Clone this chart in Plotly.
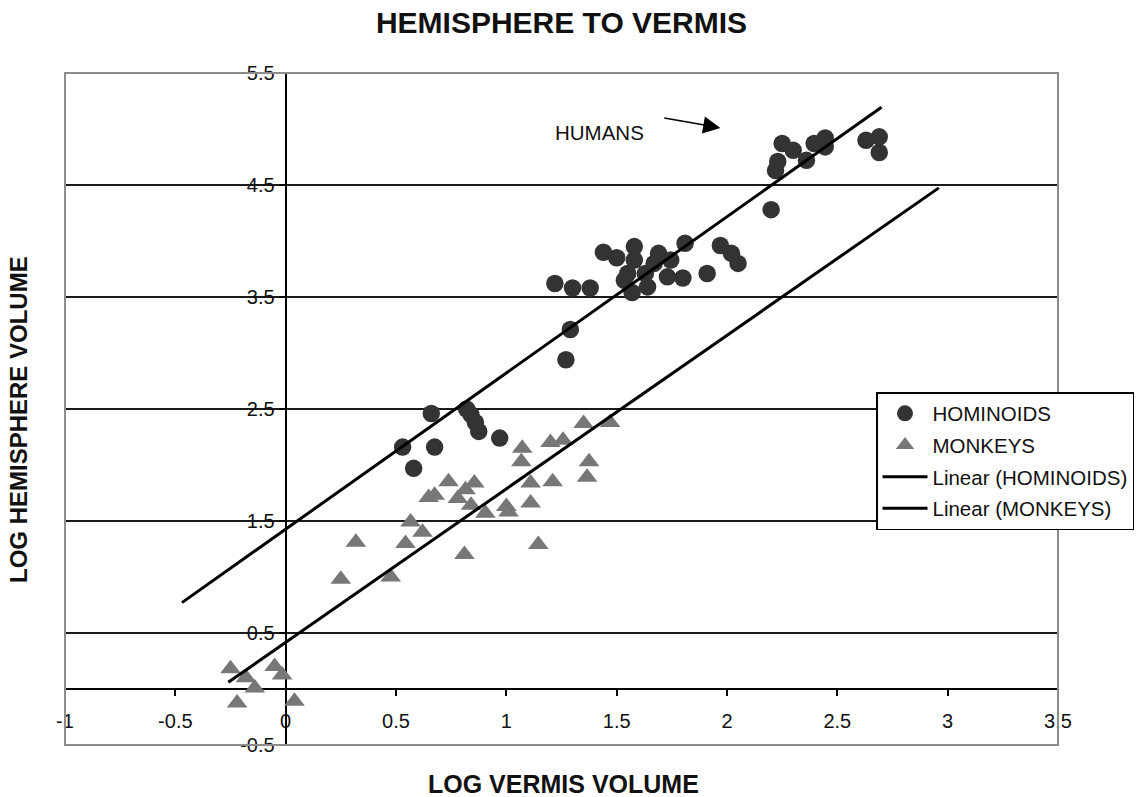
import plotly.graph_objects as go

# Log vermis volume (x) vs log hemisphere volume (y)
hom_x = [0.53, 0.66, 0.675, 0.58, 0.82, 0.84, 0.86, 0.875, 0.97,
         1.22, 1.30, 1.38, 1.29, 1.27,
         1.44, 1.50, 1.58, 1.58, 1.55, 1.535, 1.57, 1.63, 1.67, 1.64,
         1.69, 1.745, 1.81, 1.73, 1.80, 1.91, 1.97, 2.02, 2.05,
         2.20, 2.25, 2.30, 2.23, 2.22, 2.36, 2.395, 2.445, 2.445,
         2.63, 2.69, 2.69]
hom_y = [2.16, 2.46, 2.16, 1.97, 2.50, 2.45, 2.38, 2.30, 2.24,
         3.62, 3.58, 3.58, 3.21, 2.94,
         3.90, 3.85, 3.95, 3.83, 3.71, 3.65, 3.54, 3.71, 3.80, 3.59,
         3.89, 3.83, 3.98, 3.68, 3.67, 3.71, 3.96, 3.89, 3.80,
         4.28, 4.87, 4.81, 4.71, 4.63, 4.72, 4.87, 4.92, 4.84,
         4.90, 4.93, 4.79]

mon_x = [1.072, 1.068, 1.20, 1.257, 1.35, 1.47, 1.375, 1.366, 1.11, 1.21,
         1.11, 1.00, 1.01, 0.905, 1.145, 0.81, 0.738, 0.855, 0.675, 0.648,
         0.78, 0.815, 0.84, 0.566, 0.62, 0.543, 0.318, 0.476, 0.25,
         -0.25, -0.18, -0.14, -0.05, -0.016, -0.22, 0.04]
mon_y = [2.15, 2.03, 2.20, 2.22, 2.37, 2.38, 2.03, 1.89, 1.84, 1.85,
         1.66, 1.63, 1.58, 1.57, 1.29, 1.20, 1.85, 1.84, 1.73, 1.71,
         1.70, 1.78, 1.64, 1.49, 1.40, 1.30, 1.31, 1.00, 0.98,
         0.18, 0.10, 0.01, 0.20, 0.125, -0.125, -0.11]

# Linear trendlines: slope, intercept and x extent
hom_slope, hom_intercept = 1.395, 1.427
hom_trend_x = [-0.47, 2.70]
mon_slope, mon_intercept = 1.371, 0.416
mon_trend_x = [-0.26, 2.96]

x_ticks = [-1, -0.5, 0, 0.5, 1, 1.5, 2, 2.5, 3, 3.5]
x_tick_text = ["-1", "-0.5", "0", "0.5", "1", "1.5", "2", "2.5", "3", "3.5"]
y_ticks = [-0.5, 0.5, 1.5, 2.5, 3.5, 4.5, 5.5]
y_tick_text = ["-0.5", "0.5", "1.5", "2.5", "3.5", "4.5", "5.5"]

x_range = [-1, 3.5]
y_range = [-0.5, 5.5]

FONT = "Liberation Sans, Arial, sans-serif"

hom_trend_y = [hom_intercept + hom_slope * v for v in hom_trend_x]
mon_trend_y = [mon_intercept + mon_slope * v for v in mon_trend_x]

fig = go.Figure()
fig.add_trace(go.Scatter(
    x=hom_x, y=hom_y, mode="markers", name="HOMINOIDS", legendgroup="a",
    marker=dict(symbol="circle", size=17.5, color="#333333", line=dict(width=0)),
))
fig.add_trace(go.Scatter(
    x=mon_x, y=mon_y, mode="markers", name="MONKEYS", legendgroup="b",
    marker=dict(symbol="triangle-up", size=18, color="#777777", line=dict(width=0)),
))
fig.add_trace(go.Scatter(
    x=hom_trend_x, y=hom_trend_y, mode="lines", name="Linear (HOMINOIDS)",
    legendgroup="c", line=dict(color="black", width=3),
))
fig.add_trace(go.Scatter(
    x=mon_trend_x, y=mon_trend_y, mode="lines", name="Linear (MONKEYS)",
    legendgroup="d", line=dict(color="black", width=3),
))

# axes cross at the origin
x_pos = (0 - y_range[0]) / (y_range[1] - y_range[0])
y_pos = (0 - x_range[0]) / (x_range[1] - x_range[0])

fig.update_layout(
    width=1138, height=797,
    margin=dict(l=65, r=80, t=73, b=52, autoexpand=False),
    paper_bgcolor="white", plot_bgcolor="white",
    font=dict(family=FONT, size=19, color="#111111"),
    title=dict(text="<b>HEMISPHERE TO VERMIS</b>", x=0.5, xref="paper",
               y=1 - 22 / 797, yanchor="middle",
               font=dict(family=FONT, size=30, color="#111111")),
    xaxis=dict(
        range=x_range, anchor="free", position=x_pos,
        tickvals=x_ticks, ticktext=x_tick_text,
        showline=True, linecolor="black", linewidth=2,
        ticks="outside", ticklen=6, tickwidth=2, tickcolor="black",
        ticklabelstandoff=8,
        showgrid=False, zeroline=False, layer="below traces",
        tickfont=dict(size=20),
    ),
    yaxis=dict(
        range=y_range, anchor="free", position=y_pos,
        tickvals=y_ticks, ticktext=y_tick_text,
        showline=True, linecolor="black", linewidth=2,
        ticks="outside", ticklen=6, tickwidth=2, tickcolor="black",
        showgrid=True, gridcolor="#1a1a1a", gridwidth=2,
        zeroline=False, layer="below traces",
        tickfont=dict(size=20),
    ),
    legend=dict(
        x=(876 - 65) / 993, y=(745 - 392) / 672, xanchor="left", yanchor="top",
        bgcolor="white", bordercolor="black", borderwidth=1.5,
        font=dict(family=FONT, size=20.5, color="#111111"),
        traceorder="grouped", tracegroupgap=2, itemwidth=45,
    ),
    showlegend=True,
)

# plot-area frame
fig.add_shape(type="rect", xref="paper", yref="paper", x0=0, x1=1, y0=0, y1=1,
              line=dict(color="#8c8c8c", width=2), layer="above")

# axis titles
fig.add_annotation(text="<b>LOG VERMIS VOLUME</b>", xref="paper", yref="paper",
                   x=(563 - 65) / 993, y=-(784 - 745) / 672, showarrow=False,
                   xanchor="center", yanchor="middle",
                   font=dict(family=FONT, size=25, color="#111111"))
fig.add_annotation(text="<b>LOG HEMISPHERE VOLUME</b>", xref="paper", yref="paper",
                   x=(18 - 65) / 993, y=(745 - 420) / 672, showarrow=False,
                   textangle=-90, xanchor="center", yanchor="middle",
                   font=dict(family=FONT, size=24, color="#111111"))

# HUMANS callout
fig.add_annotation(text="HUMANS", x=1.42, y=4.97, xref="x", yref="y",
                   showarrow=False, font=dict(family=FONT, size=20.5, color="#111111"))
fig.add_annotation(text="", x=1.97, y=5.01, ax=1.709, ay=5.10,
                   xref="x", yref="y", axref="x", ayref="y",
                   showarrow=True, arrowhead=2, arrowsize=2.3, arrowwidth=1.5,
                   arrowcolor="black")

fig.write_html("out.html")
